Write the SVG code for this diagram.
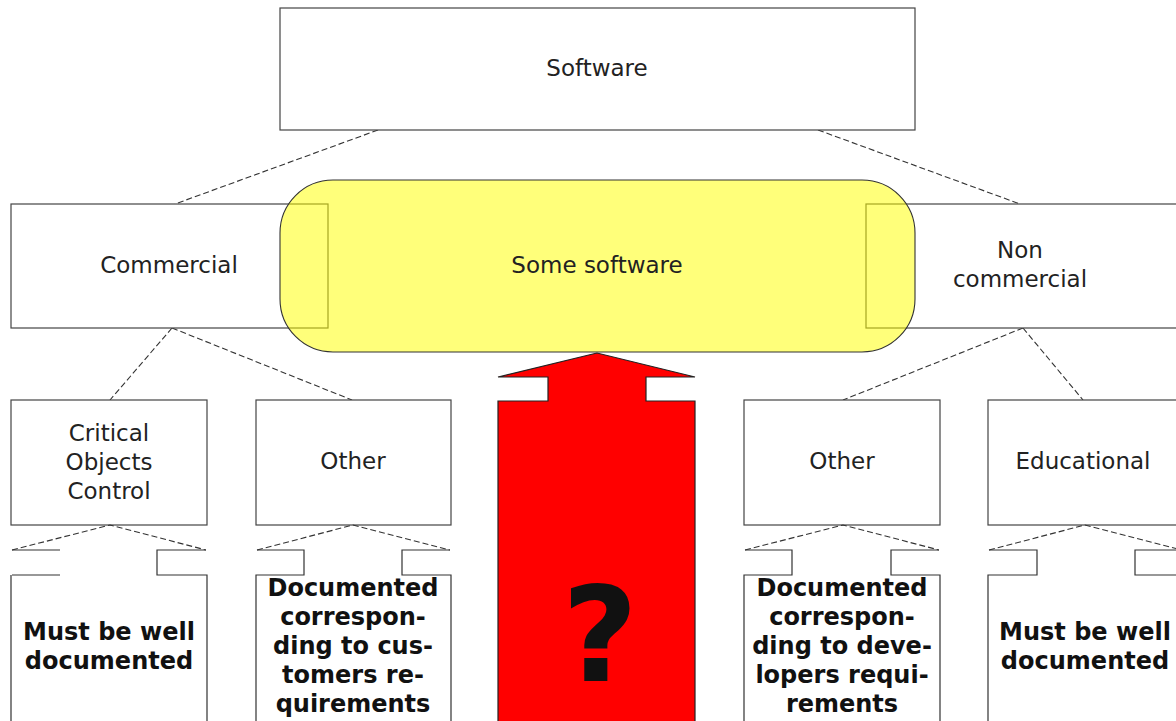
<svg xmlns="http://www.w3.org/2000/svg" width="1176" height="721" viewBox="0 0 1176 721">
<style>
.box{fill:#fff;stroke:#444;stroke-width:1.2}
.lbl{font-family:"DejaVu Sans",Verdana,sans-serif;font-size:23px;fill:#222;text-anchor:middle}
.bold{font-family:"DejaVu Sans",Verdana,sans-serif;font-size:24px;font-weight:bold;fill:#111;text-anchor:middle}
.dash{fill:none;stroke:#333;stroke-width:1.1;stroke-dasharray:6,3}
.edge{fill:none;stroke:#333;stroke-width:1.2}
</style>
<rect width="1176" height="721" fill="#fff"/>
<g id="connectors">
<path class="dash" d="M378,130 L175,204"/>
<path class="dash" d="M818,130 L1020,204"/>
<path class="dash" d="M172,328 L110,400"/>
<path class="dash" d="M172,328 L352,400"/>
<path class="dash" d="M1023,328 L843,400"/>
<path class="dash" d="M1023,328 L1083,400"/>
</g>
<g id="software"><rect class="box" x="280" y="8" width="635" height="122"/><text class="lbl" x="597" y="76">Software</text></g>
<g id="commercial"><rect class="box" x="11" y="204" width="317" height="124"/><text class="lbl" x="169" y="273">Commercial</text></g>
<g id="noncommercial"><rect class="box" x="866" y="204" width="320" height="124"/><text class="lbl" x="1020" y="258">Non</text><text class="lbl" x="1020" y="287">commercial</text></g>
<g id="some-software"><rect x="280" y="180" width="635" height="172" rx="53" ry="53" fill="#ffff00" fill-opacity="0.52" stroke="#333" stroke-width="1.1"/><text class="lbl" x="597" y="273">Some software</text></g>
<g id="critical"><rect class="box" x="11" y="400" width="196" height="125"/><text class="lbl" x="109" y="441">Critical</text><text class="lbl" x="109" y="470">Objects</text><text class="lbl" x="109" y="499">Control</text></g>
<g id="other-commercial"><rect class="box" x="256" y="400" width="195" height="125"/><text class="lbl" x="353" y="469">Other</text></g>
<g id="other-noncommercial"><rect class="box" x="744" y="400" width="196" height="125"/><text class="lbl" x="842" y="469">Other</text></g>
<g id="educational"><rect class="box" x="988" y="400" width="196" height="125"/><text class="lbl" x="1083" y="469">Educational</text></g>
<g id="arrow-critical">
<path class="dash" d="M12,550 L110,525 L206,550"/>
<path class="edge" d="M12,550 H60 M12,575 H60 M11,575 V721 M206,550 H157 V575 H207 V721"/>
<text class="bold" x="109" y="640">Must be well</text><text class="bold" x="109" y="669">documented</text>
</g>
<g id="arrow-other-commercial">
<path class="dash" d="M257,550 L353,525 L450,550"/>
<path class="edge" d="M257,550 H304 V575 H256 V721 M450,550 H402 V575 H451 V721"/>
<text class="bold" x="353" y="596">Documented</text><text class="bold" x="353" y="625">correspon-</text><text class="bold" x="353" y="654">ding to cus-</text><text class="bold" x="353" y="683">tomers re-</text><text class="bold" x="353" y="712">quirements</text>
</g>
<g id="arrow-red">
<path d="M597,353 L498,377 H548 V401 H498 V725 H695 V401 H646 V377 H695 Z" fill="#ff0000" stroke="#222" stroke-width="1.2"/>
<text x="600" y="681" font-family="DejaVu Sans,Verdana,sans-serif" font-size="131" font-weight="bold" fill="#111" text-anchor="middle">?</text>
</g>
<g id="arrow-other-noncommercial">
<path class="dash" d="M745,550 L843,525 L939,550"/>
<path class="edge" d="M745,550 H792 V575 H744 V721 M939,550 H891 V575 H940 V721"/>
<text class="bold" x="842" y="596">Documented</text><text class="bold" x="842" y="625">correspon-</text><text class="bold" x="842" y="654">ding to deve-</text><text class="bold" x="842" y="683">lopers requi-</text><text class="bold" x="842" y="712">rements</text>
</g>
<g id="arrow-educational">
<path class="dash" d="M989,550 L1085,525 L1182,550"/>
<path class="edge" d="M989,550 H1037 V575 H988 V721 M1182,550 H1135 V575 H1184 V721"/>
<text class="bold" x="1085" y="640">Must be well</text><text class="bold" x="1085" y="669">documented</text>
</g>
</svg>
